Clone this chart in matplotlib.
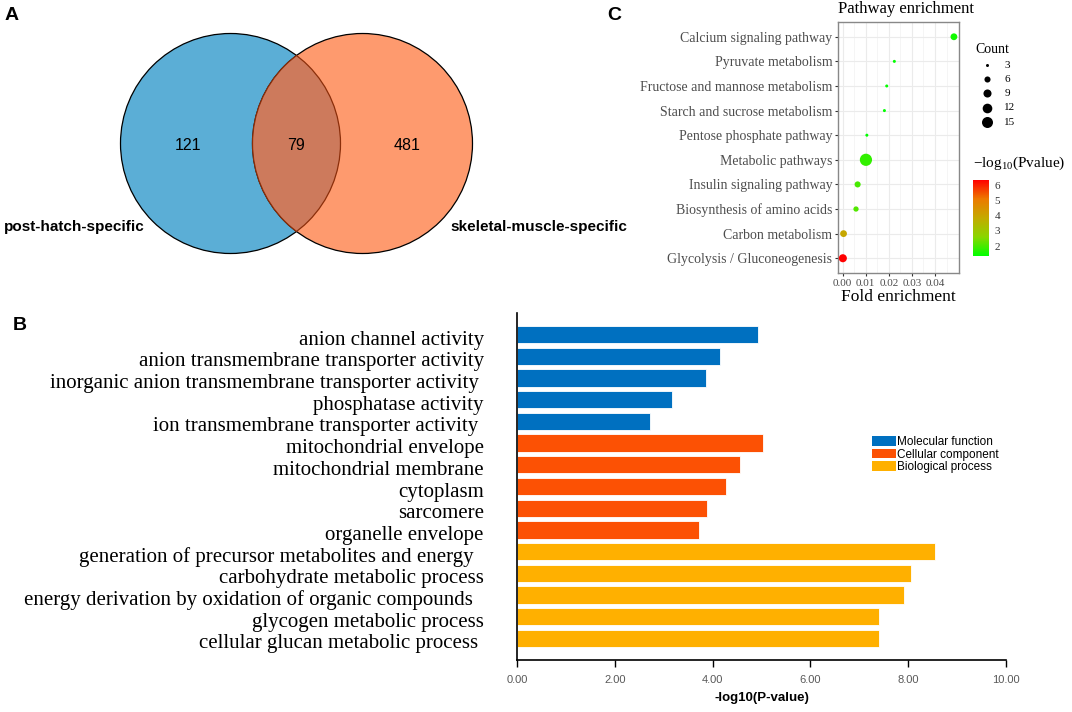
import numpy as np
import matplotlib
matplotlib.use('Agg')
import matplotlib.pyplot as plt
from matplotlib.patches import Circle, Patch
from matplotlib.colors import LinearSegmentedColormap, Normalize
from matplotlib.cm import ScalarMappable
import matplotlib.transforms as mtransforms

plt.rcParams['mathtext.fontset'] = 'custom'
plt.rcParams['mathtext.rm'] = 'Liberation Serif'
SERIF = 'Liberation Serif'
SANS = 'Liberation Sans'

# ---- panel A: venn counts
set_names = ['post-hatch-specific', 'skeletal-muscle-specific']
only_a, both, only_b = 121, 79, 481

# ---- panel B: GO enrichment
go_terms = ['anion channel activity',
            'anion transmembrane transporter activity',
            'inorganic anion transmembrane transporter activity ',
            'phosphatase activity',
            'ion transmembrane transporter activity ',
            'mitochondrial envelope',
            'mitochondrial membrane',
            'cytoplasm',
            'sarcomere',
            'organelle envelope',
            'generation of precursor metabolites and energy  ',
            'carbohydrate metabolic process',
            'energy derivation by oxidation of organic compounds  ',
            'glycogen metabolic process',
            'cellular glucan metabolic process ']
go_values = [4.92, 4.15, 3.86, 3.16, 2.71, 5.03, 4.56, 4.27, 3.89, 3.72,
             8.54, 8.06, 7.92, 7.41, 7.41]
go_groups = ['Molecular function'] * 5 + ['Cellular component'] * 5 + ['Biological process'] * 5
group_colors = {'Molecular function': '#0070C0',
                'Cellular component': '#FC5104',
                'Biological process': '#FFB000'}

# ---- panel C: KEGG pathways
pathways = ['Calcium signaling pathway', 'Pyruvate metabolism',
            'Fructose and mannose metabolism', 'Starch and sucrose metabolism',
            'Pentose phosphate pathway', 'Metabolic pathways',
            'Insulin signaling pathway', 'Biosynthesis of amino acids',
            'Carbon metabolism', 'Glycolysis / Gluconeogenesis']
fold_enrich = [0.0482, 0.0224, 0.0191, 0.0181, 0.0105, 0.0101, 0.0065, 0.0058, 0.0004, 0.0001]
path_count = [7, 3, 3, 3, 3, 18, 6, 5, 7, 9]
path_logp = [1.5, 1.35, 1.4, 1.35, 1.35, 1.8, 2.0, 2.1, 3.9, 6.33]
count_breaks = [3, 6, 9, 12, 15]

W, H = 1072, 712
fig = plt.figure(figsize=(W / 100, H / 100), dpi=100)


def px_axes(x0, y0, x1, y1):
    return fig.add_axes([x0 / W, 1 - y1 / H, (x1 - x0) / W, (y1 - y0) / H])


def dot_size(c):
    # marker area grows linearly with the count
    return 4.7 + 4.84 * (np.asarray(c) - 3)


def shift(artist, dy_px):
    artist.set_transform(artist.get_transform() +
                         mtransforms.ScaledTranslation(0, dy_px / 100, fig.dpi_scale_trans))


# ================= A: venn
ax_a = px_axes(0, 0, 640, 300)
ax_a.set_xlim(0, 640)
ax_a.set_ylim(300, 0)
ax_a.axis('off')
r = 110
ca = (230.5, 143.5)
cb = (362.5, 143.5)
left = Circle(ca, r, facecolor='#5BAED6', edgecolor='black', lw=0.9)
right = Circle(cb, r, facecolor='#FE9A6E', edgecolor='black', lw=0.9)
ax_a.add_patch(left)
ax_a.add_patch(right)
inter = Circle(cb, r, facecolor='#CD7A5C', edgecolor='#8B2E0A', lw=0.9)
ax_a.add_patch(inter)
inter.set_clip_path(left)
arc = Circle(ca, r, facecolor='none', edgecolor='#8B2E0A', lw=0.9)
ax_a.add_patch(arc)
arc.set_clip_path(right)
ax_a.text(ca[0] - 42, 145, str(only_a), ha='center', va='center', fontsize=11.5, family=SANS)
ax_a.text((ca[0] + cb[0]) / 2, 145, str(both), ha='center', va='center', fontsize=11.5, family=SANS)
ax_a.text(cb[0] + 45, 145, str(only_b), ha='center', va='center', fontsize=11.5, family=SANS)
ax_a.text(4, 227, set_names[0], ha='left', va='center', fontsize=11, fontweight='bold', family=SANS)
ax_a.text(450, 227, set_names[1], ha='left', va='center', fontsize=11, fontweight='bold', family=SANS)

# ================= B: GO bars
ax_b = px_axes(517, 313, 1006, 660)
ypos = np.arange(len(go_terms))
ax_b.barh(ypos, go_values, height=0.8,
          color=[group_colors[g] for g in go_groups], edgecolor='white', lw=0.6)
ax_b.set_ylim(15, -1)
ax_b.set_xlim(0, 10)
ax_b.set_xticks(np.arange(0, 11, 2))
ax_b.set_xticklabels(['%.2f' % v for v in np.arange(0, 11, 2)], family=SANS, fontsize=8, color='#595959')
ax_b.set_yticks(ypos)
ax_b.set_yticklabels(go_terms, family=SERIF, fontsize=15)
ax_b.tick_params(axis='y', length=0, pad=24)
ax_b.tick_params(axis='x', length=5, width=1, pad=6)
for s in ['top', 'right']:
    ax_b.spines[s].set_visible(False)
ax_b.spines['left'].set_linewidth(1.2)
ax_b.spines['bottom'].set_linewidth(1.2)
ax_b.set_xlabel('-log10(P-value)', family=SANS, fontweight='bold', fontsize=9.5, labelpad=5)
for i, lbl in enumerate(ax_b.get_yticklabels()):
    shift(lbl, -3)
handles = [Patch(facecolor=c, label=g) for g, c in group_colors.items()]
ax_b.legend(handles=handles, loc='upper left', bbox_to_anchor=((872 - 517) / 489, 1 - (436 - 313) / 347),
            frameon=False, prop={'family': SANS, 'size': 8.5}, handlelength=2.0, handleheight=0.9,
            handletextpad=0.1, labelspacing=0.05, borderpad=0, borderaxespad=0)

# ================= C: pathway dots
cmap = LinearSegmentedColormap.from_list('gr', ['#00FF00', '#8AD600', '#C4AA00', '#EC7A00', '#FF0000'])
norm = Normalize(min(path_logp), max(path_logp))
ax_c = px_axes(838, 22, 959, 273)
yc = np.arange(len(pathways))
ax_c.scatter(fold_enrich, yc, s=dot_size(path_count), c=path_logp, cmap=cmap, norm=norm, zorder=3, lw=0)
ax_c.set_ylim(len(pathways) - 0.4, -0.6)
ax_c.set_xlim(-0.002, 0.0504)
ax_c.set_yticks(yc)
ax_c.set_yticklabels(pathways, family=SERIF, fontsize=10, color='#4D4D4D')
ax_c.set_xticks([0, 0.01, 0.02, 0.03, 0.04])
ax_c.set_xticklabels(['0.00', '0.01', '0.02', '0.03', '0.04'], family=SERIF, fontsize=8, color='#4D4D4D')
ax_c.set_xticks(np.arange(0.005, 0.05, 0.01), minor=True)
ax_c.tick_params(which='major', length=2.5, color='#333333', pad=1.5)
ax_c.tick_params(which='minor', length=0)
ax_c.grid(which='major', color='#EBEBEB', lw=0.8)
ax_c.grid(which='minor', color='#F2F2F2', lw=0.5)
ax_c.set_axisbelow(True)
for s in ax_c.spines.values():
    s.set_color('#888888')
    s.set_linewidth(1)
ax_c.set_xlabel('Fold enrichment', family=SERIF, fontsize=12.5, labelpad=1)
fig.text(906 / W, 1 - 9 / H, 'Pathway enrichment', ha='center', va='center', family=SERIF, fontsize=12)

# size legend
size_handles = [ax_c.scatter([], [], s=dot_size(c), color='black', lw=0) for c in count_breaks]
fig.legend(size_handles, [str(c) for c in count_breaks], title='Count', loc='upper left',
           bbox_to_anchor=(970 / W, 1 - 37 / H), frameon=False,
           prop={'family': SERIF, 'size': 8}, title_fontproperties={'family': SERIF, 'size': 10},
           labelspacing=0.4, handletextpad=0.6, borderpad=0, alignment='left')

# colour bar
cax = px_axes(973, 180, 989, 256)
cb_ = fig.colorbar(ScalarMappable(norm=norm, cmap=cmap), cax=cax, ticks=[2, 3, 4, 5, 6])
cb_.outline.set_visible(False)
cax.tick_params(length=0, pad=4)
for t in cax.get_yticklabels():
    t.set_family(SERIF)
    t.set_fontsize(8)
    t.set_color('#333333')
fig.text(973 / W, 1 - 163 / H, r'$-\mathrm{log}_{10}$(Pvalue)', ha='left', va='center', family=SERIF, fontsize=11)

# panel letters
fig.text(5 / W, 1 - 15 / H, 'A', family=SANS, fontweight='bold', fontsize=14, va='center')
fig.text(13 / W, 1 - 325 / H, 'B', family=SANS, fontweight='bold', fontsize=14, va='center')
fig.text(607 / W, 1 - 15 / H, 'C', family=SANS, fontweight='bold', fontsize=14, va='center')

fig.savefig('out.png', dpi=100)
